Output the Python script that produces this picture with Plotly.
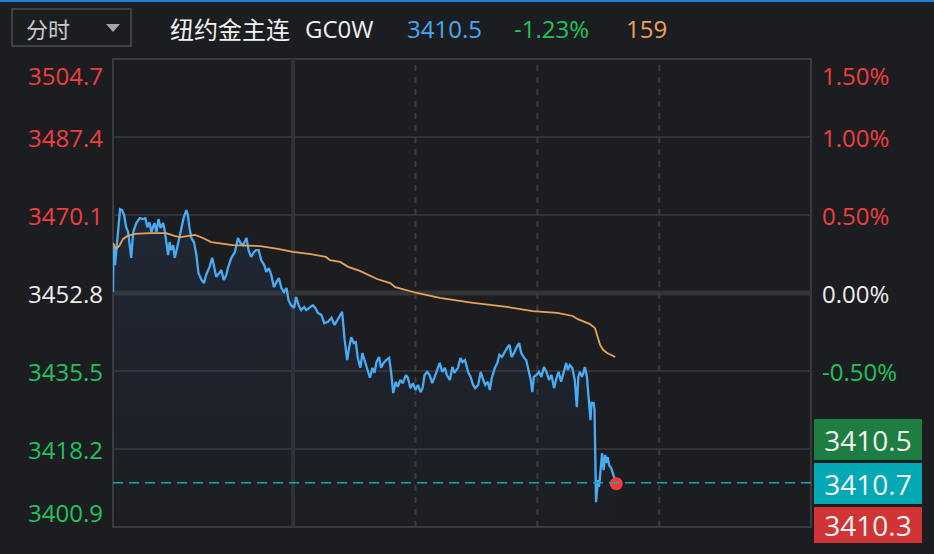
import plotly.graph_objects as go

# ---------------- data ----------------
# minutes after 06:00 (session 06:00 -> 05:00 next day)
price_min = [0, 1, 4, 8, 14, 18, 22, 26, 30, 33, 36, 40, 46, 53, 59, 64, 68, 72, 76, 79,
             82, 86, 90, 94, 99, 102, 105, 109, 112, 115, 119, 122, 125, 129, 132, 136, 140, 145, 148, 151,
             155, 160, 165, 169, 175, 180, 184, 191, 196, 200, 204, 210, 214, 219, 224, 227, 234, 241, 247, 252,
             257, 264, 268, 273, 279, 283, 288, 293, 299, 303, 308, 313, 318, 323, 328, 333, 338, 343, 347, 352,
             358, 362, 367, 372, 378, 382, 389, 395, 400, 405, 412, 418, 425, 432, 438, 448, 453, 458, 463, 467,
             471, 476, 480, 484, 489, 493, 498, 502, 508, 513, 517, 521, 526, 530, 535, 540, 546, 550, 554, 559,
             563, 568, 573, 579, 583, 588, 593, 598, 603, 608, 612, 616, 621, 626, 631, 636, 641, 646, 651, 656,
             660, 666, 671, 675, 682, 687, 691, 696, 702, 707, 712, 716, 722, 727, 732, 736, 741, 745, 749, 755,
             760, 764, 769, 774, 780, 784, 788, 793, 797, 803, 807, 813, 817, 820, 826, 829, 832, 837, 842, 847,
             852, 857, 862, 867, 872, 877, 881, 886, 892, 896, 899, 903, 908, 913, 917, 920, 923, 927, 930, 933,
             937, 939, 941, 944, 946, 950, 952, 953, 955, 957, 959, 961, 965, 967, 970, 973, 975, 978, 981, 985,
             988, 993, 995]
price = [3453.0, 3463.4, 3459.0, 3464.1, 3471.4, 3471.2, 3470.1, 3467.4, 3466.3, 3463.4, 3460.6, 3466.3, 3468.3, 3469.4, 3469.2, 3469.4, 3467.4, 3468.5, 3466.3, 3467.4,
         3468.3, 3466.3, 3469.2, 3467.2, 3468.3, 3466.8, 3464.1, 3461.2, 3464.1, 3462.3, 3463.4, 3460.6, 3461.9, 3464.1, 3465.0, 3467.9, 3469.6, 3471.2, 3470.1, 3467.4,
         3465.0, 3464.1, 3461.2, 3457.2, 3455.7, 3455.0, 3456.8, 3458.6, 3460.6, 3458.6, 3456.4, 3457.2, 3457.9, 3455.7, 3456.8, 3458.3, 3460.6, 3461.9, 3465.0, 3463.9,
         3463.4, 3465.0, 3462.3, 3460.8, 3461.9, 3462.3, 3462.3, 3460.1, 3459.0, 3457.5, 3458.3, 3456.8, 3454.1, 3455.2, 3456.1, 3453.9, 3453.0, 3453.9, 3451.2, 3450.1,
         3449.5, 3451.9, 3450.1, 3449.0, 3449.7, 3449.0, 3449.5, 3450.1, 3449.5, 3448.4, 3447.9, 3446.1, 3446.4, 3447.3, 3445.7, 3447.5, 3448.6, 3442.4, 3437.9, 3440.8,
         3443.0, 3441.7, 3441.9, 3438.4, 3436.2, 3439.5, 3437.5, 3436.4, 3434.0, 3436.2, 3435.1, 3437.5, 3438.6, 3436.2, 3437.3, 3437.9, 3438.4, 3435.1, 3430.6, 3433.1,
         3432.0, 3433.5, 3432.8, 3434.6, 3434.0, 3431.7, 3432.8, 3431.3, 3432.4, 3430.8, 3431.7, 3434.6, 3435.3, 3434.6, 3432.8, 3434.2, 3435.7, 3437.3, 3435.3, 3436.2,
         3434.6, 3433.5, 3436.4, 3435.1, 3436.2, 3438.4, 3437.5, 3437.9, 3435.3, 3434.2, 3432.4, 3431.7, 3432.4, 3435.3, 3433.5, 3432.4, 3433.1, 3431.3, 3434.0, 3436.2,
         3437.3, 3439.1, 3438.6, 3439.7, 3440.8, 3441.3, 3438.6, 3439.5, 3440.6, 3441.7, 3439.5, 3438.4, 3437.9, 3436.4, 3433.5, 3430.8, 3434.2, 3434.6, 3435.3, 3434.2,
         3436.4, 3435.3, 3433.5, 3434.6, 3431.7, 3434.0, 3435.3, 3433.1, 3435.3, 3437.3, 3435.7, 3436.8, 3436.2, 3433.5, 3427.5, 3434.2, 3435.3, 3434.2, 3435.1, 3436.4,
         3434.2, 3431.3, 3429.1, 3424.6, 3428.4, 3428.4, 3426.9, 3418.0, 3406.4, 3409.1, 3411.3, 3409.8, 3415.8, 3417.3, 3413.5, 3416.9, 3415.1, 3416.4, 3414.6, 3414.0,
         3412.9, 3410.9, 3410.5]

avg_min = [0, 6, 12, 20, 28, 43, 73, 105, 123, 134, 162, 178, 194, 214, 237, 291, 326, 356, 391, 421,
           429, 449, 465, 488, 522, 548, 558, 601, 646, 712, 779, 830, 878, 909, 919, 943, 953, 957, 963, 969,
           977, 993]
avg_price = [3463.9, 3462.6, 3463.2, 3464.8, 3465.4, 3465.9, 3466.1, 3466.1, 3465.4, 3465.2, 3465.7, 3465.0, 3464.1, 3463.7, 3463.4, 3463.2, 3462.6, 3461.9, 3461.4, 3460.8,
             3460.1, 3459.7, 3458.6, 3457.7, 3455.9, 3455.0, 3454.1, 3452.8, 3451.7, 3450.6, 3449.7, 3448.8, 3448.4, 3447.7, 3447.0, 3445.9, 3445.0, 3443.5, 3441.3, 3440.2,
             3439.5, 3438.6]

prev_close = 3452.8
y_ticks = [3504.7, 3487.4, 3470.1, 3452.8, 3435.5, 3418.2, 3400.9]
# the -1.00% / -1.50% labels are hidden behind the value boxes in the reference
pct_labels = ["1.50%", "1.00%", "0.50%", "0.00%", "-0.50%"]
session_lines = [356, 598, 839, 1080]      # 12:00, 16:00, 20:00, 00:00
ref_price = 3410.7
box_labels = ["3410.5", "3410.7", "3410.3"]
header_name = "纽约金主连"
header_code = "GC0W"
header_price = "3410.5"
header_change = "-1.23%"
header_volume = "159"
period_label = "分时"

# ---------------- layout helpers ----------------
W, H = 934, 554
L, R, T, B = 113, 811, 59, 527
BG = "#1c1d21"
RED = "#f23d3d"
GREEN = "#1ec35c"
WHITE = "#ececec"
NUM_FONT = "Open Sans, Noto Sans, sans-serif"
CJK_FONT = "Noto Sans CJK SC, sans-serif"


def px(x):
    return (x - L) / (R - L)


def py(y):
    return (B - y) / (B - T)


fig = go.Figure()

fig.add_trace(go.Scatter(
    x=price_min, y=price, mode="lines",
    line=dict(color="#48acf4", width=2.3),
    fill="tozeroy",
    fillgradient=dict(type="vertical",
                      colorscale=[[0, "rgba(40,70,110,0.02)"], [1, "rgba(45,80,125,0.22)"]],
                      start=y_ticks[-1], stop=max(price)),
    hoverinfo="skip"))
fig.add_trace(go.Scatter(
    x=avg_min, y=avg_price, mode="lines",
    line=dict(color="#e8a35a", width=1.8), hoverinfo="skip"))
fig.add_trace(go.Scatter(
    x=[price_min[-1]], y=[price[-1]], mode="markers",
    marker=dict(color="#f23b3b", size=13, line=dict(width=0)), hoverinfo="skip", cliponaxis=False))

shapes = []
# plot border
shapes.append(dict(type="rect", xref="paper", yref="paper", x0=0, x1=1, y0=0, y1=1,
                   line=dict(color="#3a3b40", width=2), layer="below"))
# horizontal grid
for v in y_ticks[1:-1]:
    if v == prev_close:
        shapes.append(dict(type="line", xref="paper", yref="y", x0=0, x1=1, y0=v, y1=v,
                           line=dict(color="#323539", width=5), layer="below"))
    else:
        shapes.append(dict(type="line", xref="paper", yref="y", x0=0, x1=1, y0=v, y1=v,
                           line=dict(color="#313337", width=2), layer="below"))
# vertical grid
for i, m in enumerate(session_lines):
    if i == 0:
        shapes.append(dict(type="line", xref="x", yref="paper", x0=m, x1=m, y0=0, y1=1,
                           line=dict(color="#2f3135", width=4), layer="below"))
    else:
        shapes.append(dict(type="line", xref="x", yref="paper", x0=m, x1=m, y0=0, y1=1,
                           line=dict(color="#3a3c40", width=2, dash="6px,6px"), layer="below"))
# reference dashed line
shapes.append(dict(type="line", xref="paper", yref="y", x0=0, x1=1, y0=ref_price, y1=ref_price,
                   line=dict(color="#15a8b2", width=1.6, dash="10px,6px")))
# top blue strip
shapes.append(dict(type="rect", xref="paper", yref="paper", x0=px(0), x1=px(W), y0=py(2), y1=py(0),
                   fillcolor="#1f7fd6", line=dict(width=0)))
# dropdown box
shapes.append(dict(type="rect", xref="paper", yref="paper", x0=px(12), x1=px(131), y0=py(46), y1=py(9),
                   line=dict(color="#4a4c51", width=1.5)))
shapes.append(dict(type="path", xref="paper", yref="paper",
                   path=f"M {px(106)} {py(24)} L {px(120)} {py(24)} L {px(113)} {py(32)} Z",
                   fillcolor="#a5a5a5", line=dict(width=0)))

ann = []
# left price ticks
for i, v in enumerate(y_ticks):
    col = RED if v > prev_close else (WHITE if v == prev_close else GREEN)
    ys = -16 if i == 0 else (15 if i == len(y_ticks) - 1 else 0)
    ann.append(dict(text=str(v), xref="paper", yref="y", x=0, y=v, xanchor="right", yanchor="middle",
                    xshift=-8, yshift=ys, showarrow=False, font=dict(family=NUM_FONT, size=24, color=col)))
# right percent ticks
for i, (v, lab) in enumerate(zip(y_ticks, pct_labels)):
    col = RED if v > prev_close else (WHITE if v == prev_close else GREEN)
    ys = -16 if i == 0 else 0
    ann.append(dict(text=lab, xref="paper", yref="y", x=1, y=v, xanchor="left", yanchor="middle",
                    xshift=9, yshift=ys, showarrow=False, font=dict(family=NUM_FONT, size=24, color=col)))
# right value boxes
box_specs = [("#1e7d40", 419, 460), ("#02a9b5", 463, 504), ("#d03434", 507, 543)]
for lab, (col, y0, y1) in zip(box_labels, box_specs):
    ann.append(dict(text=lab, xref="paper", yref="paper", x=px(814), y=py((y0 + y1) / 2),
                    xanchor="left", yanchor="middle", showarrow=False, bgcolor=col,
                    width=108, height=y1 - y0, borderpad=0, borderwidth=0,
                    font=dict(family=NUM_FONT, size=28, color="#f2f2f2")))
# header
ann.append(dict(text=period_label, xref="paper", yref="paper", x=px(24), y=py(28), xanchor="left",
                yanchor="middle", showarrow=False, font=dict(family=CJK_FONT, size=22, color="#c9c9c9")))
hdr = [(header_name, 168, "#f0f0f0", CJK_FONT, 24), (header_code, 303, "#f0f0f0", NUM_FONT, 24),
       (header_price, 405, "#45a9f2", NUM_FONT, 24), (header_change, 512, GREEN, NUM_FONT, 24),
       (header_volume, 624, "#e8a35a", NUM_FONT, 24)]
for text, x, col, fam, size in hdr:
    ann.append(dict(text=text, xref="paper", yref="paper", x=px(x), y=py(28), xanchor="left",
                    yanchor="middle", showarrow=False, font=dict(family=fam, size=size, color=col)))

fig.update_layout(
    width=W, height=H, autosize=False,
    margin=dict(l=L, r=W - R, t=T, b=H - B, pad=0),
    paper_bgcolor=BG, plot_bgcolor=BG,
    showlegend=False, hovermode=False,
    xaxis=dict(range=[0, 1380], visible=False, fixedrange=True),
    yaxis=dict(range=[y_ticks[-1], y_ticks[0]], visible=False, fixedrange=True),
    shapes=shapes, annotations=ann,
)

fig.write_html("out.html", config={"displayModeBar": False, "staticPlot": True},
               post_script="document.body.style.margin='0px';document.body.style.background='#1c1d21';")
